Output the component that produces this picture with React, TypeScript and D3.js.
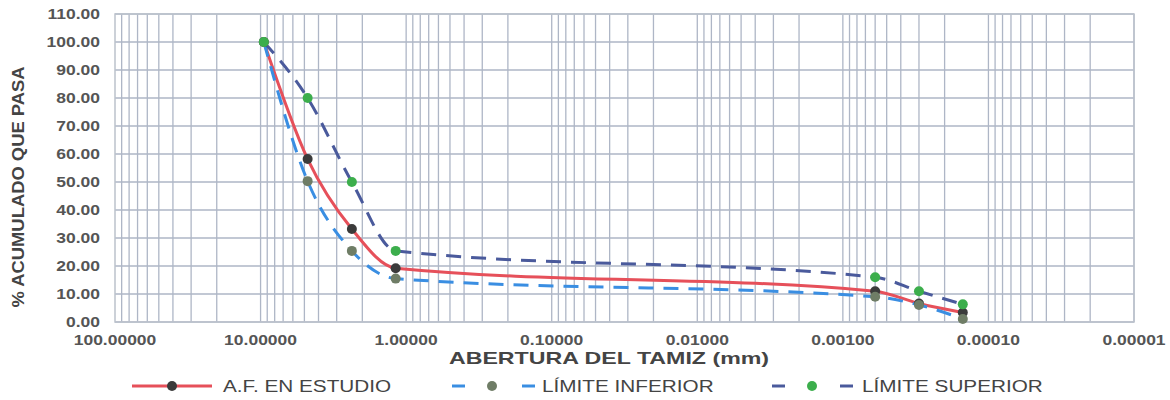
import React from "react";
import * as d3 from "d3";

// sieve openings (mm) as plotted
const openings = [9.5, 4.75, 2.36, 1.18, 0.0006, 0.0003, 0.00015];
const estudio = [100, 58.2, 33.2, 19.2, 11.0, 6.6, 3.4];
const inferior = [100, 50.3, 25.4, 15.5, 9.0, 6.1, 1.1];
const superior = [100, 80.0, 50.0, 25.4, 16.0, 11.0, 6.3];

const yTicks = [0, 10, 20, 30, 40, 50, 60, 70, 80, 90, 100, 110];
const xTicks = [100, 10, 1, 0.1, 0.01, 0.001, 0.0001, 0.00001];
const xTickLabels = ["100.00000", "10.00000", "1.00000", "0.10000", "0.01000", "0.00100", "0.00010", "0.00001"];

const series = [
  { name: "A.F. EN ESTUDIO", values: estudio, line: "#e6505a", dot: "#3b3b3b", dash: null },
  { name: "LÍMITE INFERIOR", values: inferior, line: "#3a8ee2", dot: "#6f7d66", dash: "15 10" },
  { name: "LÍMITE SUPERIOR", values: superior, line: "#4a5a9c", dot: "#3cae4c", dash: "15 10" },
];

const W = 1170;
const H = 400;
const m = { left: 115, right: 36, top: 14, bottom: 78 };

export default function App() {
  const x = d3.scaleLog().domain([100, 0.00001]).range([m.left, W - m.right]);
  const y = d3.scaleLinear().domain([0, 110]).range([H - m.bottom, m.top]);

  // minor log grid
  const minor: number[] = [];
  for (let k = -5; k < 2; k++) {
    for (let i = 1; i < 10; i++) minor.push(i * Math.pow(10, k));
  }

  const line = d3
    .line<number>()
    .x((_, i) => x(openings[i]))
    .y((d) => y(d))
    .curve(d3.curveMonotoneX);

  const font = "Arial, 'Liberation Sans', sans-serif";
  const grey = "#555";

  const legendPos = [
    { x0: 132, x1: 212, mx: 172, tx: 223 },
    { x0: 452, x1: 535, mx: 492, tx: 542 },
    { x0: 772, x1: 853, mx: 812, tx: 862 },
  ];
  const ly = 386;

  return (
    <svg width={W} height={H} style={{ position: "absolute", left: 0, top: 0 }}>
      <rect width={W} height={H} fill="#fff" />
      <g stroke="#aeb6c6" strokeWidth={1.3}>
        {minor.map((v, i) => (
          <line key={"v" + i} x1={x(v)} x2={x(v)} y1={y(110)} y2={y(0)} />
        ))}
        {yTicks.map((t) => (
          <line key={"h" + t} x1={x(100)} x2={x(0.00001)} y1={y(t)} y2={y(t)} />
        ))}
      </g>
      <rect
        x={x(100)}
        y={y(110)}
        width={x(0.00001) - x(100)}
        height={y(0) - y(110)}
        fill="none"
        stroke="#bcc2cc"
        strokeWidth={1.5}
      />

      {series.map((s) => (
        <path
          key={s.name}
          d={line(s.values) || ""}
          fill="none"
          stroke={s.line}
          strokeWidth={3}
          strokeDasharray={s.dash || undefined}
        />
      ))}
      {series.map((s) =>
        s.values.map((v, i) => (
          <circle key={s.name + i} cx={x(openings[i])} cy={y(v)} r={5} fill={s.dot} />
        ))
      )}

      <g fontFamily={font} fontWeight="bold" fill={grey} fontSize={14}>
        {yTicks.map((t) => (
          <text
            key={t}
            transform={`translate(${m.left - 15},${y(t) + 5}) scale(1.25,1)`}
            textAnchor="end"
          >
            {t.toFixed(2)}
          </text>
        ))}
        {xTicks.map((t, i) => (
          <text
            key={t}
            transform={`translate(${x(t)},${H - m.bottom + 23}) scale(1.25,1)`}
            textAnchor="middle"
          >
            {xTickLabels[i]}
          </text>
        ))}
      </g>

      <text
        transform={`translate(609,364) scale(1.45,1)`}
        textAnchor="middle"
        fontFamily={font}
        fontWeight="bold"
        fontSize={16}
        fill="#444"
      >
        ABERTURA DEL TAMIZ (mm)
      </text>
      <text
        transform={`translate(24,187) rotate(-90) scale(1.15,1)`}
        textAnchor="middle"
        fontFamily={font}
        fontWeight="bold"
        fontSize={16}
        fill="#444"
      >
        % ACUMULADO QUE PASA
      </text>

      {series.map((s, i) => {
        const p = legendPos[i];
        return (
          <g key={s.name}>
            {s.dash ? (
              <>
                <line x1={p.x0} x2={p.x0 + 13} y1={ly} y2={ly} stroke={s.line} strokeWidth={3} />
                <line x1={p.x1 - 13} x2={p.x1} y1={ly} y2={ly} stroke={s.line} strokeWidth={3} />
              </>
            ) : (
              <line x1={p.x0} x2={p.x1} y1={ly} y2={ly} stroke={s.line} strokeWidth={3} />
            )}
            <circle cx={p.mx} cy={ly} r={5} fill={s.dot} />
            <text
              transform={`translate(${p.tx},${ly + 6}) scale(1.22,1)`}
              fontFamily={font}
              fontSize={17}
              fill="#444"
            >
              {s.name}
            </text>
          </g>
        );
      })}
    </svg>
  );
}
